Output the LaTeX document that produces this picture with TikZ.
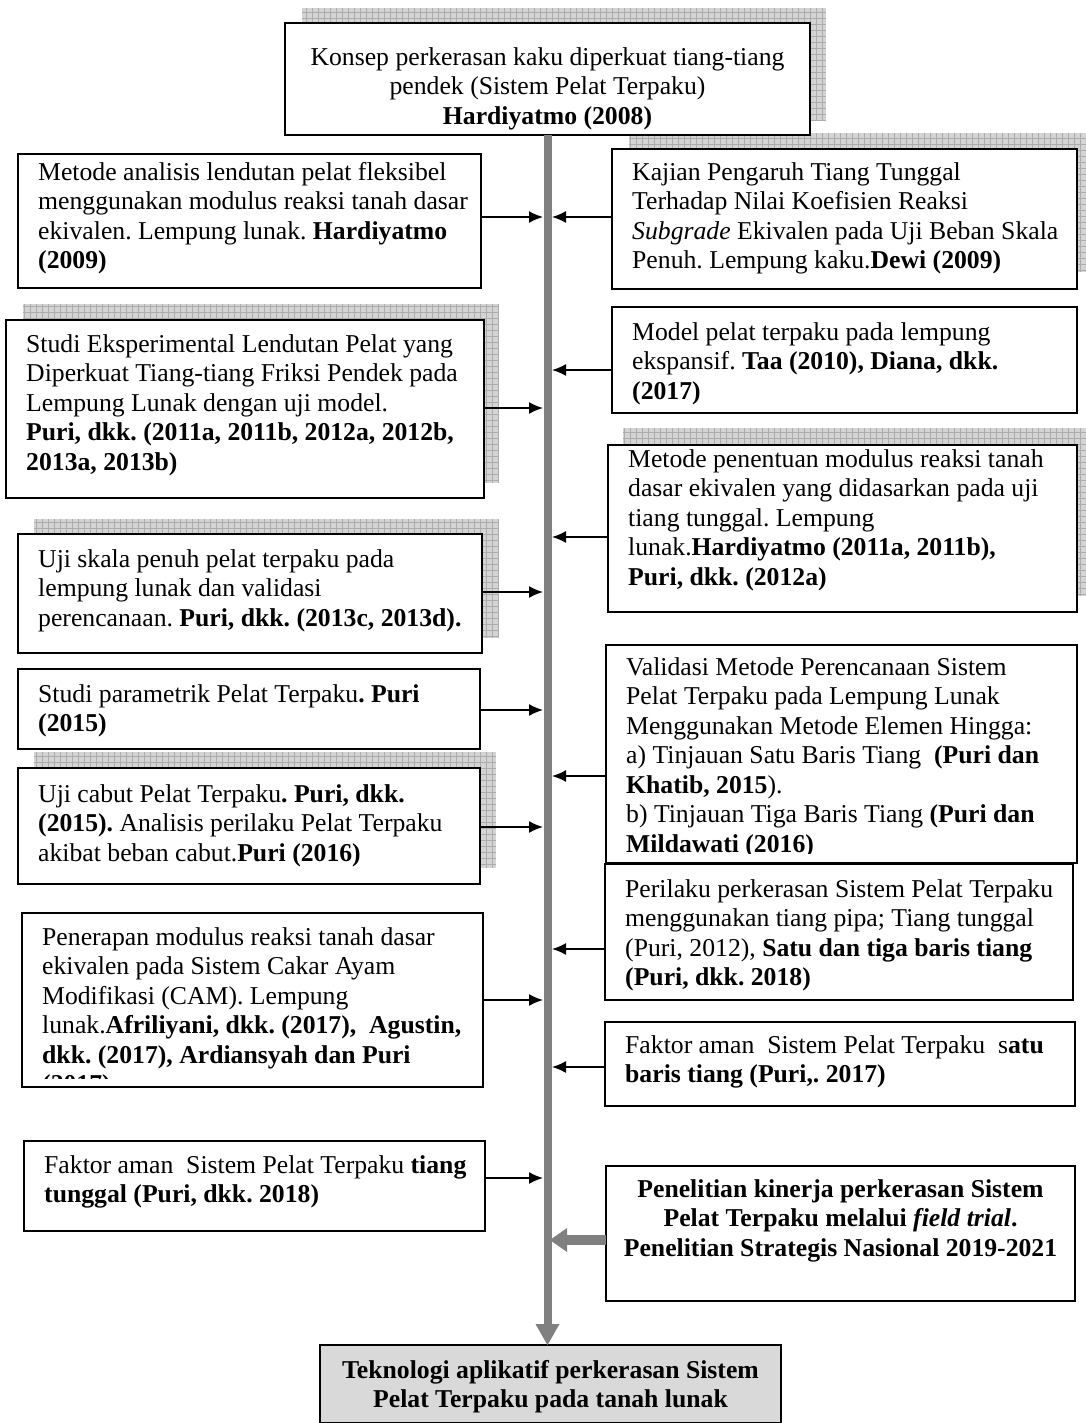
\documentclass[tikz,border=0pt]{standalone}
\usepackage{fontspec}
\setmainfont{Liberation Serif}
\usetikzlibrary{arrows.meta,calc}
\definecolor{spinegray}{RGB}{128,128,128}
\definecolor{shadowfill}{RGB}{212,212,212}
\definecolor{shadowgrid}{RGB}{172,172,172}
\definecolor{endfill}{RGB}{217,217,217}
\newcommand{\fl}{\rule{0pt}{20pt}}
\newcommand{\shadowrect}[4]{%
  \fill[shadowfill] (#1,#2) rectangle (#3,#4);
  \draw[shadowgrid,line width=0.5pt,step=6pt] (#1,#2) grid (#3,#4);}
\frenchspacing
\begin{document}
\begin{tikzpicture}[x=1pt,y=-1pt,
  box/.style={draw=black,line width=1.8pt,fill=white,anchor=north west,inner sep=0pt,outer sep=0pt},
  txt/.style={anchor=north west,inner sep=0pt,align=left,font=\fontsize{25.7}{29.5}\selectfont},
  ctxt/.style={anchor=north,inner sep=0pt,align=center,font=\fontsize{25.7}{29.5}\selectfont\bfseries},
  arr/.style={draw=black,line width=1.6pt,-{Latex[length=14pt,width=12pt]}},
  spine/.style={draw=spinegray,line width=8pt,-{Triangle[length=21pt,width=24pt,line width=0pt]}},
  thickarr/.style={draw=spinegray,line width=10pt,-{Triangle[length=17pt,width=24pt,line width=0pt]}},
]
\useasboundingbox (0,0) rectangle (1085,1423);

% shadows
\shadowrect{302}{8}{826}{120}
\shadowrect{629}{133}{1090}{272}
\shadowrect{23}{304}{499}{483}
\shadowrect{623}{428}{1090}{596}
\shadowrect{34}{519}{498}{638}
\shadowrect{34}{752}{496}{868}

% boxes
\node[box,minimum width=525pt,minimum height=112pt] (b0) at (285,23) {};
\node[box,minimum width=463pt,minimum height=134pt] (b1) at (18,154) {};
\node[box,minimum width=478pt,minimum height=178pt] (b2) at (6,320) {};
\node[box,minimum width=464pt,minimum height=119pt] (b3) at (18,534) {};
\node[box,minimum width=462pt,minimum height=80pt] (b4) at (18,669) {};
\node[box,minimum width=462pt,minimum height=116pt] (b5) at (18,768) {};
\node[box,minimum width=461pt,minimum height=174pt] (b6) at (22,913) {};
\node[box,minimum width=461pt,minimum height=90pt] (b7) at (24,1141) {};
\node[box,minimum width=465pt,minimum height=140pt] (r1) at (612,149) {};
\node[box,minimum width=465pt,minimum height=106pt] (r2) at (612,307) {};
\node[box,minimum width=469pt,minimum height=167pt] (r3) at (608,445) {};
\node[box,minimum width=471pt,minimum height=218pt] (r4) at (606,645) {};
\node[box,minimum width=468pt,minimum height=136pt] (r5) at (605,864) {};
\node[box,minimum width=470pt,minimum height=84pt] (r6) at (605,1022) {};
\node[box,minimum width=469pt,minimum height=135pt] (r7) at (606,1166) {};
\node[box,fill=endfill,minimum width=461pt,minimum height=78pt] (bot) at (320,1345) {};

% texts
\node[ctxt,font=\fontsize{25.7}{29.5}\selectfont] (t0) at (547.5,45) {\fl Konsep perkerasan kaku diperkuat tiang-tiang\\pendek (Sistem Pelat Terpaku)\\\textbf{Hardiyatmo (2008)}};
\node[txt] (t1) at (38,160) {\fl Metode analisis lendutan pelat fleksibel\\menggunakan modulus reaksi tanah dasar\\ekivalen. Lempung lunak. \textbf{Hardiyatmo}\\\textbf{(2009)}};
\node[txt] (t2) at (26,332) {\fl Studi Eksperimental Lendutan Pelat yang\\Diperkuat Tiang-tiang Friksi Pendek pada\\Lempung Lunak dengan uji model.\\\textbf{Puri, dkk. (2011a, 2011b, 2012a, 2012b,}\\\textbf{2013a, 2013b)}};
\node[txt] (t3) at (38,547) {\fl Uji skala penuh pelat terpaku pada\\lempung lunak dan validasi\\perencanaan. \textbf{Puri, dkk. (2013c, 2013d).}};
\node[txt] (t4) at (38,682) {\fl Studi parametrik Pelat Terpaku\textbf{. Puri}\\\textbf{(2015)}};
\node[txt] (t5) at (38,782) {\fl Uji cabut Pelat Terpaku\textbf{. Puri, dkk.}\\\textbf{(2015).} Analisis perilaku Pelat Terpaku\\akibat beban cabut.\textbf{Puri (2016)}};
\begin{scope}
\clip (22,913) rectangle (483,1078);
\node[txt] (t6) at (42,925) {\fl Penerapan modulus reaksi tanah dasar\\ekivalen pada Sistem Cakar Ayam\\Modifikasi (CAM). Lempung\\lunak.\textbf{Afriliyani, dkk. (2017), \ Agustin,}\\\textbf{dkk. (2017), Ardiansyah dan Puri}\\\textbf{(2017)}};
\end{scope}
\node[txt] (t7) at (44,1153) {\fl Faktor aman \ Sistem Pelat Terpaku \textbf{tiang}\\\textbf{tunggal (Puri, dkk. 2018)}};
\node[txt] (u1) at (632,160) {\fl Kajian Pengaruh Tiang Tunggal\\Terhadap Nilai Koefisien Reaksi\\\textit{Subgrade} Ekivalen pada Uji Beban Skala\\Penuh. Lempung kaku.\textbf{Dewi (2009)}};
\node[txt] (u2) at (632,320) {\fl Model pelat terpaku pada lempung\\ekspansif. \textbf{Taa (2010), Diana, dkk.}\\\textbf{(2017)}};
\node[txt] (u3) at (628,447) {\fl Metode penentuan modulus reaksi tanah\\dasar ekivalen yang didasarkan pada uji\\tiang tunggal. Lempung\\lunak.\textbf{Hardiyatmo (2011a, 2011b),}\\\textbf{Puri, dkk. (2012a)}};
\begin{scope}
\clip (606,645) rectangle (1077,853);
\node[txt] (u4) at (626,655) {\fl Validasi Metode Perencanaan Sistem\\Pelat Terpaku pada Lempung Lunak\\Menggunakan Metode Elemen Hingga:\\a) Tinjauan Satu Baris Tiang \ \textbf{(Puri dan}\\\textbf{Khatib, 2015}).\\b) Tinjauan Tiga Baris Tiang \textbf{(Puri dan}\\\textbf{Mildawati (2016)}};
\end{scope}
\node[txt] (u5) at (625,877) {\fl Perilaku perkerasan Sistem Pelat Terpaku\\menggunakan tiang pipa; Tiang tunggal\\(Puri, 2012), \textbf{Satu dan tiga baris tiang}\\\textbf{(Puri, dkk. 2018)}};
\node[txt] (u6) at (625,1033) {\fl Faktor aman \ Sistem Pelat Terpaku \ s\textbf{atu}\\\textbf{baris tiang (Puri,. 2017)}};
\node[ctxt] (u7) at (840.5,1177) {\fl Penelitian kinerja perkerasan Sistem\\Pelat Terpaku melalui \textit{field trial}.\\Penelitian Strategis Nasional 2019-2021};
\node[ctxt] (tb) at (550.5,1358) {\fl Teknologi aplikatif perkerasan Sistem\\Pelat Terpaku pada tanah lunak};

% spine
\draw[spine] (b0.south) -- (b0.south |- bot.north);

% arrow targets on the spine
\coordinate (la1) at (543,217);
\coordinate (la2) at (543,408);
\coordinate (la3) at (543,592);
\coordinate (la4) at (543,710);
\coordinate (la5) at (543,827);
\coordinate (la6) at (543,1000);
\coordinate (la7) at (543,1178);
\coordinate (ra1) at (552,217);
\coordinate (ra2) at (552,370);
\coordinate (ra3) at (552,537);
\coordinate (ra4) at (552,776);
\coordinate (ra5) at (552,949);
\coordinate (ra6) at (552,1067);
\coordinate (ra7) at (550,1240);

\draw[arr] (b1.east |- la1) -- (la1);
\draw[arr] (b2.east |- la2) -- (la2);
\draw[arr] (b3.east |- la3) -- (la3);
\draw[arr] (b4.east |- la4) -- (la4);
\draw[arr] (b5.east |- la5) -- (la5);
\draw[arr] (b6.east |- la6) -- (la6);
\draw[arr] (b7.east |- la7) -- (la7);
\draw[arr] (r1.west |- ra1) -- (ra1);
\draw[arr] (r2.west |- ra2) -- (ra2);
\draw[arr] (r3.west |- ra3) -- (ra3);
\draw[arr] (r4.west |- ra4) -- (ra4);
\draw[arr] (r5.west |- ra5) -- (ra5);
\draw[arr] (r6.west |- ra6) -- (ra6);
\draw[thickarr] (r7.west |- ra7) -- (ra7);
\end{tikzpicture}
\end{document}
